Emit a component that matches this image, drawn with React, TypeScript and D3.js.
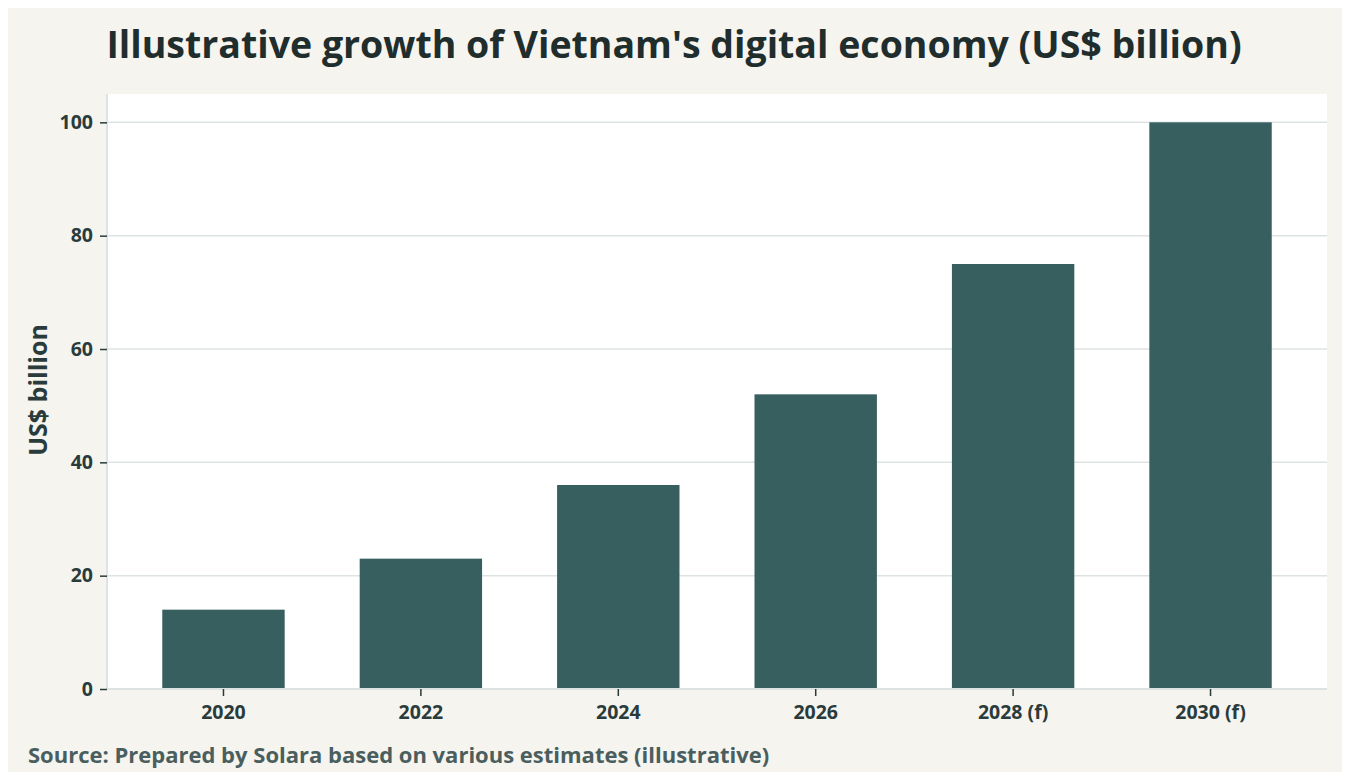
import { useEffect, useRef } from "react";
import * as d3 from "d3";

const years = ["2020", "2022", "2024", "2026", "2028 (f)", "2030 (f)"];
const values = [14, 23, 36, 52, 75, 100];
const yTicks = [0, 20, 40, 60, 80, 100];

const titleText = "Illustrative growth of Vietnam's digital economy (US$ billion)";
const yLabel = "US$ billion";
const sourceText = "Source: Prepared by Solara based on various estimates (illustrative)";

const FONT = "'Open Sans', Lato, sans-serif";

export default function App() {
  const ref = useRef<SVGSVGElement>(null);

  useEffect(() => {
    if (!ref.current) return;
    const width = 1350;
    const height = 780;
    const margin = { top: 94, right: 23, bottom: 91, left: 107 };

    const svg = d3.select(ref.current);
    svg.selectAll("*").remove();

    svg.append("rect").attr("width", width).attr("height", height).attr("fill", "#f5f4ef");

    const innerW = width - margin.left - margin.right;
    const innerH = height - margin.top - margin.bottom;

    const g = svg.append("g").attr("transform", `translate(${margin.left},${margin.top})`);

    g.append("rect").attr("width", innerW).attr("height", innerH).attr("fill", "#ffffff");

    const x = d3.scaleBand().domain(years).range([0, innerW]).paddingInner(0.38).paddingOuter(0.28);
    const y = d3.scaleLinear().domain([0, 105]).range([innerH, 0]);

    // grid
    g.selectAll(".grid")
      .data(yTicks.filter((t) => t > 0))
      .enter()
      .append("line")
      .attr("x1", 0)
      .attr("x2", innerW)
      .attr("y1", (d) => y(d))
      .attr("y2", (d) => y(d))
      .attr("stroke", "#dde3e2")
      .attr("stroke-width", 1.5);

    g.selectAll(".bar")
      .data(values)
      .enter()
      .append("rect")
      .attr("x", (_d, i) => x(years[i]) || 0)
      .attr("y", (d) => y(d))
      .attr("width", x.bandwidth())
      .attr("height", (d) => innerH - y(d))
      .attr("fill", "#375f5f");

    const yAxis = g.append("g").call(
      d3.axisLeft(y).tickValues(yTicks).tickSize(7).tickPadding(7)
    );
    yAxis.select(".domain").attr("stroke", "#dde3e2").attr("stroke-width", 2).attr("d", `M0,0V${innerH}`);
    yAxis.selectAll(".tick line").attr("stroke", "#2a3b3b").attr("stroke-width", 1.5);
    yAxis
      .selectAll(".tick text")
      .attr("fill", "#2a3b3b")
      .attr("font-family", FONT)
      .attr("font-weight", 700)
      .attr("font-size", 19.5);

    const xAxis = g
      .append("g")
      .attr("transform", `translate(0,${innerH})`)
      .call(d3.axisBottom(x).tickSize(7).tickPadding(9));
    xAxis.select(".domain").attr("stroke", "#dde3e2").attr("stroke-width", 2).attr("d", `M0,0H${innerW}`);
    xAxis.selectAll(".tick line").attr("stroke", "#2a3b3b").attr("stroke-width", 1.5);
    xAxis
      .selectAll(".tick text")
      .attr("fill", "#2a3b3b")
      .attr("font-family", FONT)
      .attr("font-weight", 700)
      .attr("font-size", 19.5);

    svg
      .append("text")
      .attr("x", 674)
      .attr("y", 58)
      .attr("text-anchor", "middle")
      .attr("fill", "#1f2d2d")
      .attr("font-family", FONT)
      .attr("font-weight", 700)
      .attr("font-size", 37.5)
      .text(titleText);

    svg
      .append("text")
      .attr("transform", `translate(47,390) rotate(-90)`)
      .attr("text-anchor", "middle")
      .attr("fill", "#2a3b3b")
      .attr("font-family", FONT)
      .attr("font-weight", 700)
      .attr("font-size", 25)
      .text(yLabel);

    svg
      .append("text")
      .attr("x", 28)
      .attr("y", 763)
      .attr("fill", "#4a5e5e")
      .attr("font-family", FONT)
      .attr("font-weight", 700)
      .attr("font-size", 22)
      .text(sourceText);
  }, []);

  return (
    <div style={{ margin: -8 }}>
      <svg ref={ref} width={1350} height={780} style={{ display: "block" }} />
    </div>
  );
}
